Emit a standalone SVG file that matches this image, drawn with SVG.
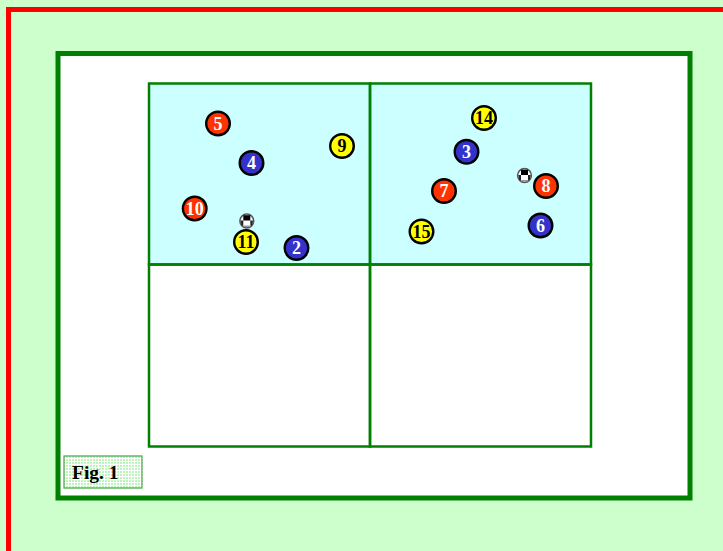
<svg xmlns="http://www.w3.org/2000/svg" width="723" height="551" viewBox="0 0 723 551">
<style>
.cell{stroke:#008000;stroke-width:2.500}
.b circle{stroke:#000;stroke-width:2.400}
.b text{font-family:"Liberation Serif",serif;font-weight:bold;font-size:18px;text-anchor:middle}
.red circle{fill:#ff3300}.red text{fill:#fff}
.blue circle{fill:#3333cc}.blue text{fill:#fff}
.yel circle{fill:#ffff00}.yel text{fill:#000}
</style>
<defs>
<pattern id="p" width="3" height="3" patternUnits="userSpaceOnUse">
<rect width="3" height="3" fill="#ffffff"/>
<rect width="2" height="2" fill="#bbf5bb"/>
</pattern>
<g id="ball">
<circle r="6.900" fill="#fff" stroke="#555" stroke-width="1.500"/>
<path d="M-3.500-5.800H3.500V-0.500H-3.500Z" fill="#000"/>
<path d="M-6.200-0.500H-3.500V4.500H-5.200Z M3.500-0.500H6.200L5.200 4.500H3.500Z" fill="#222"/>
<path d="M-3.500 4.500H3.500V6H-3.500Z" fill="#999"/>
</g>
</defs>
<rect width="723" height="551" fill="#ccffcc"/>
<path d="M8.500 551V9.500H723" fill="none" stroke="#ff0000" stroke-width="5"/>
<g id="frame"><rect x="58" y="53.500" width="632" height="444.500" fill="#fff" stroke="#008000" stroke-width="5"/></g>
<g id="grid">
<rect x="149" y="83.500" width="221" height="181" fill="#ccffff"/>
<rect x="370" y="83.500" width="221" height="181" fill="#ccffff"/>
<rect class="cell" x="149" y="83.500" width="221" height="181" fill="none"/>
<rect class="cell" x="370" y="83.500" width="221" height="181" fill="none"/>
<rect class="cell" x="149" y="264.500" width="221" height="182" fill="none"/>
<rect class="cell" x="370" y="264.500" width="221" height="182" fill="none"/>
</g>
<g id="connectors"></g>
<g id="n5" class="b red"><circle cx="218" cy="123.500" r="11.800"/><text x="218" y="129.500">5</text></g>
<g id="n4" class="b blue"><circle cx="251.500" cy="163" r="11.800"/><text x="251.500" y="169">4</text></g>
<g id="n9" class="b yel"><circle cx="342" cy="146" r="11.800"/><text x="342" y="152">9</text></g>
<g id="n10" class="b red"><circle cx="194.700" cy="208.500" r="11.800"/><text x="194.700" y="214.500">10</text></g>
<g id="n11" class="b yel"><circle cx="246" cy="242" r="11.800"/><text x="246" y="248">11</text></g>
<g id="n2" class="b blue"><circle cx="296.500" cy="248" r="11.800"/><text x="296.500" y="254">2</text></g>
<g id="n14" class="b yel"><circle cx="484" cy="118" r="11.800"/><text x="484" y="124">14</text></g>
<g id="n3" class="b blue"><circle cx="466.500" cy="151.800" r="11.800"/><text x="466.500" y="157.800">3</text></g>
<g id="n8" class="b red"><circle cx="546" cy="186" r="11.800"/><text x="546" y="192">8</text></g>
<g id="n7" class="b red"><circle cx="444" cy="191" r="11.800"/><text x="444" y="197">7</text></g>
<g id="n6" class="b blue"><circle cx="540.500" cy="225.500" r="11.800"/><text x="540.500" y="231.500">6</text></g>
<g id="n15" class="b yel"><circle cx="421.500" cy="231.500" r="11.800"/><text x="421.500" y="237.500">15</text></g>
<use id="ball1" href="#ball" x="246.800" y="221"/>
<use id="ball2" href="#ball" x="524.500" y="175.500"/>
<g id="fig">
<rect x="64" y="456" width="78" height="32" fill="url(#p)" stroke="#55aa55" stroke-width="1.300"/>
<text x="72" y="479" font-family="'Liberation Serif',serif" font-weight="bold" font-size="19.500px" fill="#000">Fig. 1</text>
</g>
</svg>
